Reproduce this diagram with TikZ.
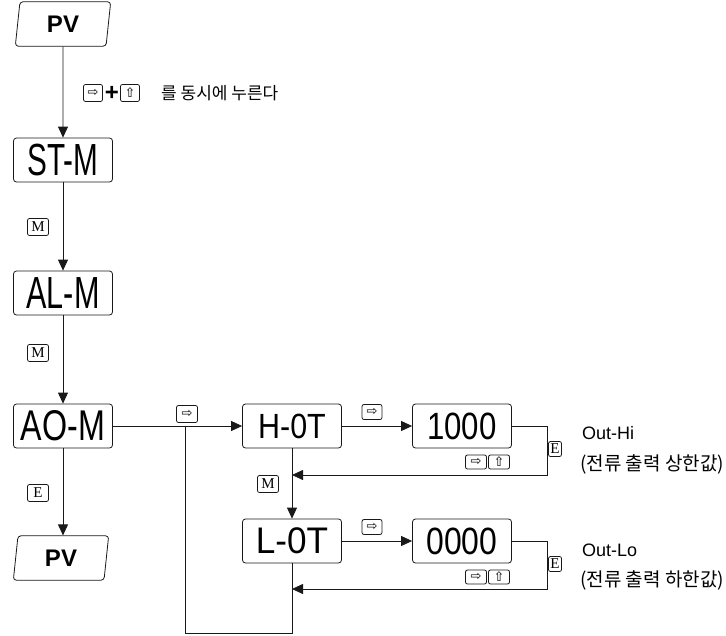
\documentclass[tikz,border=0pt]{standalone}
\usepackage{graphicx}
\usepackage{fontspec}
\setmainfont{Liberation Sans}
\newfontfamily\kofont{Noto Sans CJK KR}
\newfontfamily\symfont{DejaVu Sans}
\newfontfamily\keyfont{Liberation Serif}
\usetikzlibrary{arrows.meta,shapes.geometric}

% display text: size, horizontal squeeze, text
\newcommand{\segtxt}[3]{\fontsize{#1}{#1}\selectfont\scalebox{#2}[1]{#3}}

\begin{document}
\begin{tikzpicture}[x=1pt,y=-1pt,
    line/.style={draw=black!90, line width=0.8pt},
    arrow/.style={line, -{Triangle[length=11pt,width=10pt]}},
    modebox/.style={line, rounded corners=3pt, minimum width=99pt,
        minimum height=44pt, inner sep=0pt},
    pvbox/.style={line, trapezium, trapezium left angle=84,
        trapezium right angle=96, rounded corners=3pt, minimum width=96pt,
        minimum height=42pt, inner sep=0pt,
        font=\bfseries\fontsize{24}{24}\selectfont},
    keybox/.style={line, rounded corners=2pt, minimum width=16pt,
        minimum height=16pt, inner sep=0pt,
        font=\symfont\fontsize{13}{13}\selectfont},
    letterkey/.style={line, rounded corners=2pt, minimum width=21pt,
        minimum height=17pt, inner sep=0pt,
        font=\keyfont\fontsize{15}{15}\selectfont},
    note/.style={anchor=west, inner sep=0pt}]
    \useasboundingbox (0,0) rectangle (726,635);

    % main column
    \node[pvbox, minimum height=37pt] (pvtop) at (63,24) {PV};
    \node[modebox] (stm) at (63,160) {\segtxt{45}{0.66}{ST-M}};
    \node[modebox] (alm) at (63,293) {\segtxt{45}{0.68}{AL-M}};
    \node[modebox] (aom) at (63,426) {\segtxt{43}{0.75}{AO-M}};
    \node[pvbox] (pvbot) at (61,558) {PV};

    \node[keybox, minimum width=19pt, minimum height=17pt] (kr0) at (93,93) {⇨};
    \node[font=\bfseries\fontsize{24}{24}\selectfont, inner sep=0pt]
        (plus) at (112,93) {+};
    \node[keybox, minimum width=19pt, minimum height=17pt] (ku0) at (130,93) {⇧};
    \node[note, font=\kofont\fontsize{17}{17}\selectfont]
        (press) at (161,93) {를 동시에 누른다};

    \node[letterkey] (km1) at (38,227) {M};
    \node[letterkey] (km2) at (38,353) {M};
    \node[letterkey] (ke1) at (38,493) {E};

    \draw[arrow] (pvtop.south) -- (stm.north);
    \draw[arrow] (stm.south) -- (alm.north);
    \draw[arrow] (alm.south) -- (aom.north);
    \draw[arrow] (aom.south) -- (aom.south |- pvbot.north);

    % output setting branch
    \node[modebox] (hot) at (292,426) {\segtxt{35}{0.87}{H-0T}};
    \node[modebox] (lot) at (292,541) {\segtxt{37}{0.95}{L-0T}};
    \node[modebox] (vhi) at (462,426) {\segtxt{38}{0.82}{1000}};
    \node[modebox] (vlo) at (462,541) {\segtxt{38}{0.84}{0000}};

    \node[keybox, minimum width=21pt, minimum height=17pt] (kr1) at (187,414) {⇨};
    \node[keybox, minimum width=20pt, minimum height=15pt] (kr2) at (372,412) {⇨};
    \node[keybox, minimum width=20pt, minimum height=15pt] (kr3) at (372,527) {⇨};
    \node[letterkey] (km3) at (268,484) {M};

    \node[keybox, minimum width=21pt, minimum height=14pt] (kr4) at (476,462) {⇨};
    \node[keybox, minimum width=21pt, minimum height=14pt] (ku4) at (499,462) {⇧};
    \node[keybox, minimum width=21pt, minimum height=14pt] (kr5) at (476,577) {⇨};
    \node[keybox, minimum width=21pt, minimum height=14pt] (ku5) at (499,577) {⇧};

    \node[letterkey, minimum width=13pt, minimum height=15pt,
        font=\keyfont\fontsize{15}{15}\selectfont] (ke2) at (555,449) {E};
    \node[letterkey, minimum width=13pt, minimum height=15pt,
        font=\keyfont\fontsize{15}{15}\selectfont] (ke3) at (555,564) {E};

    \node[note, font=\fontsize{18}{18}\selectfont] (outhi) at (582,433) {Out-Hi};
    \node[note, font=\kofont\fontsize{19}{19}\selectfont]
        (hitxt) at (580,464) {(전류 출력 상한값)};
    \node[note, font=\fontsize{18}{18}\selectfont] (outlo) at (582,550) {Out-Lo};
    \node[note, font=\kofont\fontsize{19}{19}\selectfont]
        (lotxt) at (580,580) {(전류 출력 하한값)};

    \coordinate (branch) at (185,426);
    \coordinate (loopbot) at (185,633);
    \coordinate (hret) at (292,475);
    \coordinate (lret) at (292,589);

    \draw[arrow] (aom.east) -- (hot.west);
    \draw[arrow] (hot.east) -- (vhi.west);
    \draw[arrow] (lot.east) -- (vlo.west);
    \draw[arrow] (hot.south) -- (lot.north);
    \draw[arrow] (vhi.east) -- ++(35,0) |- (hret);
    \draw[arrow] (vlo.east) -- ++(35,0) |- (lret);
    \draw[line] (lot.south) |- (loopbot) -- (branch);
\end{tikzpicture}
\end{document}
